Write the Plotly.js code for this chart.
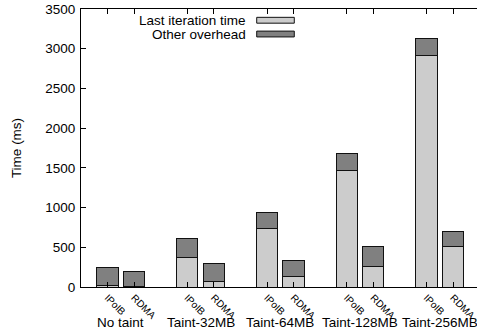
<!DOCTYPE html>
<html>
<head>
<meta charset="utf-8">
<script src="https://cdn.plot.ly/plotly-3.0.1.min.js"></script>
<style>
html,body{margin:0;padding:0;background:#fff;}
#chart{width:477px;height:335px;}
</style>
</head>
<body>
<div id="chart"></div>
<script>
// ---- data ----
var groups = ["No taint", "Taint-32MB", "Taint-64MB", "Taint-128MB", "Taint-256MB"];
var variants = ["IPoIB", "RDMA"];
var ipoibLast = [15, 374, 739, 1461, 2917];
var ipoibOther = [228, 239, 196, 214, 214];
var rdmaLast = [5, 67, 126, 256, 512];
var rdmaOther = [195, 231, 210, 256, 189];
var seriesNames = ["Last iteration time", "Other overhead"];

// ---- build positions (clustered histogram: 2 bars per group, gap of 1) ----
var groupStride = variants.length + 1;
var xI = groups.map(function(_, g){ return g * groupStride; });
var xR = groups.map(function(_, g){ return g * groupStride + 1; });
var lastX = [], lastY = [], otherX = [], otherY = [];
groups.forEach(function(_, g){
  lastX.push(xI[g], xR[g]); lastY.push(ipoibLast[g], rdmaLast[g]);
  otherX.push(xI[g], xR[g]); otherY.push(ipoibOther[g], rdmaOther[g]);
});
var tickVals = [], tickText = [];
groups.forEach(function(_, g){
  tickVals.push(xI[g], xR[g]); tickText.push(variants[0], variants[1]);
});

var lightColor = "#cccccc", darkColor = "#808080";
var font = "Liberation Sans, Arial, sans-serif";

var traces = [
  {type:"bar", x:lastX, y:lastY, width:0.8, name:seriesNames[0],
   marker:{color:lightColor, line:{color:"#111", width:1}}, showlegend:false, hoverinfo:"skip"},
  {type:"bar", x:otherX, y:otherY, width:0.8, name:seriesNames[1],
   marker:{color:darkColor, line:{color:"#111", width:1}}, showlegend:false, hoverinfo:"skip"}
];

var annotations = groups.map(function(name, g){
  return {x:(xI[g]+xR[g])/2, xref:"x", y:-0.126, yref:"paper",
          text:name, showarrow:false, xanchor:"center", yanchor:"middle",
          font:{family:font, size:13.5, color:"#000"}};
});
// legend (text right, sample box to the right of the text, like the original)
var legY = [0.9595, 0.910];
var legColors = [lightColor, darkColor];
var shapes = [];
seriesNames.forEach(function(n, i){
  annotations.push({x:0.4217, xref:"paper", y:legY[i], yref:"paper", text:n,
    showarrow:false, xanchor:"right", yanchor:"middle",
    font:{family:font, size:13.5, color:"#000"}});
  shapes.push({type:"rect", xref:"paper", yref:"paper",
    x0:0.4437, x1:0.5386, y0:legY[i]-0.0105, y1:legY[i]+0.0105,
    fillcolor:legColors[i], line:{color:"#111", width:1}});
});

var layout = {
  width:477, height:335,
  margin:{l:81, r:0, t:9, b:48},
  paper_bgcolor:"#fff", plot_bgcolor:"#fff",
  barmode:"stack",
  showlegend:false,
  font:{family:font, size:13.5, color:"#000"},
  xaxis:{
    range:[-1, 13.9], tickmode:"array", tickvals:tickVals, ticktext:tickText,
    tickangle:45, tickfont:{family:font, size:10, color:"#000"},
    ticks:"inside", ticklen:5, tickcolor:"#000",
    showline:true, linecolor:"#000", linewidth:1, mirror:"ticks",
    showgrid:false, zeroline:false, automargin:false
  },
  yaxis:{
    range:[0, 3500], dtick:500, tick0:0,
    ticks:"inside", ticklen:5, tickcolor:"#000",
    tickfont:{family:font, size:13.5, color:"#000"},
    showline:true, linecolor:"#000", linewidth:1, mirror:false,
    showgrid:false, zeroline:false, automargin:false,
    ticklabelstandoff:2,
    title:{text:"Time (ms)", font:{family:font, size:13.5, color:"#000"}, standoff:20}
  },
  annotations:annotations,
  shapes:shapes
};

Plotly.newPlot("chart", traces, layout, {staticPlot:true, displayModeBar:false});
</script>
</body>
</html>
